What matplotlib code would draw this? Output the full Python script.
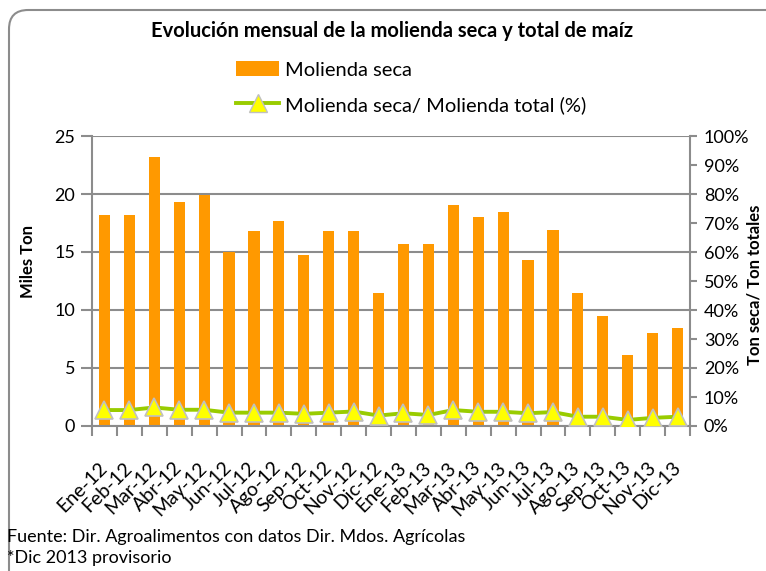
import matplotlib.pyplot as plt
from matplotlib.patches import FancyBboxPatch, Patch
from matplotlib.lines import Line2D
import numpy as np

meses = ["Ene-12", "Feb-12", "Mar-12", "Abr-12", "May-12", "Jun-12", "Jul-12", "Ago-12",
         "Sep-12", "Oct-12", "Nov-12", "Dic-12", "Ene-13", "Feb-13", "Mar-13", "Abr-13",
         "May-13", "Jun-13", "Jul-13", "Ago-13", "Sep-13", "Oct-13", "Nov-13", "Dic-13"]
molienda_seca = [18.2, 18.2, 23.2, 19.3, 19.9, 15.0, 16.8, 17.7, 14.7, 16.8, 16.8, 11.5,
                 15.7, 15.7, 19.05, 18.0, 18.45, 14.3, 16.9, 11.5, 9.5, 6.1, 8.0, 8.45]
pct_seca = [5.5, 5.5, 6.4, 5.6, 5.6, 4.6, 4.6, 4.6, 4.2, 4.6, 5.0, 3.6,
            4.4, 3.8, 5.5, 4.9, 4.9, 4.4, 4.8, 3.2, 3.2, 2.1, 2.8, 3.2]

plt.rcParams['font.family'] = ['Lato', 'DejaVu Sans']

naranja = "#FF9900"
verde = "#99CC00"
gris = "#8C8C8C"

fig = plt.figure(figsize=(7.66, 5.71), dpi=100)
ax = fig.add_axes([92 / 766, 1 - 426 / 571, 598 / 766, 290 / 571])
x = np.arange(len(meses))

ax.bar(x, molienda_seca, width=0.45, color=naranja, zorder=2)
ax.set_xlim(-0.5, len(meses) - 0.5)
ax.set_ylim(0, 25)
ax.set_yticks(np.arange(0, 26, 5))
ax.grid(axis="y", color=gris, linewidth=1.5, zorder=0)
ax.set_axisbelow(True)

# ticks en los limites de categoria, etiquetas al centro
ax.set_xticks(np.arange(-0.5, len(meses), 1))
ax.set_xticklabels([])
ax.set_xticks(x, minor=True)
ax.set_xticklabels(meses, minor=True, rotation=45, ha="right", va="center",
                   rotation_mode="anchor", fontsize=14)
ax.tick_params(axis="x", which="major", length=7, width=1.5, color=gris, direction="out")
ax.tick_params(axis="x", which="minor", length=0, pad=28)
ax.tick_params(axis="y", length=8, width=1.5, color=gris, labelsize=13, pad=4)

for s in ["top", "right"]:
    ax.spines[s].set_visible(False)
for s in ["left", "bottom"]:
    ax.spines[s].set_color(gris)
    ax.spines[s].set_linewidth(1.5)

ax2 = ax.twinx()
ax2.plot(x, pct_seca, color=verde, linewidth=2.8, marker="^", markersize=13,
         markerfacecolor="#FFFF00", markeredgecolor="#C0C0C0", markeredgewidth=1.2, zorder=3)
ax2.set_ylim(0, 100)
ax2.set_yticks(np.arange(0, 101, 10))
ax2.set_yticklabels([f"{v}%" for v in range(0, 101, 10)])
ax2.tick_params(axis="y", length=5, width=1.5, color=gris, labelsize=13, pad=5)
for s in ["top", "left", "bottom"]:
    ax2.spines[s].set_visible(False)
ax2.spines["right"].set_color(gris)
ax2.spines["right"].set_linewidth(1.5)

fig.text(28 / 766, 1 - 262 / 571, "Miles Ton", rotation=90, ha="center", va="center",
         fontsize=12, fontweight="bold")
fig.text(754 / 766, 1 - 285 / 571, "Ton seca/ Ton totales", rotation=90, ha="center",
         va="center", fontsize=12, fontweight="bold")

fig.text(392 / 766, 1 - 31 / 571, "Evolución mensual de la molienda seca y total de maíz",
         ha="center", va="center", fontsize=14.5, fontweight="bold")

handles = [Patch(facecolor=naranja, edgecolor="none"),
           Line2D([], [], color=verde, linewidth=2.8, marker="^", markersize=13,
                  markerfacecolor="#FFFF00", markeredgecolor="#C0C0C0")]
fig.legend(handles, ["Molienda seca", "Molienda seca/ Molienda total (%)"],
           loc="upper left", bbox_to_anchor=(236 / 766, 1 - 61 / 571), frameon=False,
           fontsize=14.5, handlelength=2.15, handleheight=0.8, labelspacing=0.85,
           handletextpad=0.3, borderpad=0, borderaxespad=0)

fig.text(7 / 766, 1 - 537 / 571, "Fuente: Dir. Agroalimentos con datos Dir. Mdos. Agrícolas",
         ha="left", va="center", fontsize=13)
fig.text(7 / 766, 1 - 558 / 571, "*Dic 2013 provisorio", ha="left", va="center", fontsize=13)

borde = FancyBboxPatch((9 / 766, -20 / 571), 780 / 766, 581 / 571,
                       boxstyle="round,pad=0,rounding_size=0.025",
                       transform=fig.transFigure, fill=False, edgecolor=gris,
                       linewidth=1.5, mutation_aspect=766 / 571)
fig.patches.append(borde)

fig.savefig("out.png", dpi=100)
